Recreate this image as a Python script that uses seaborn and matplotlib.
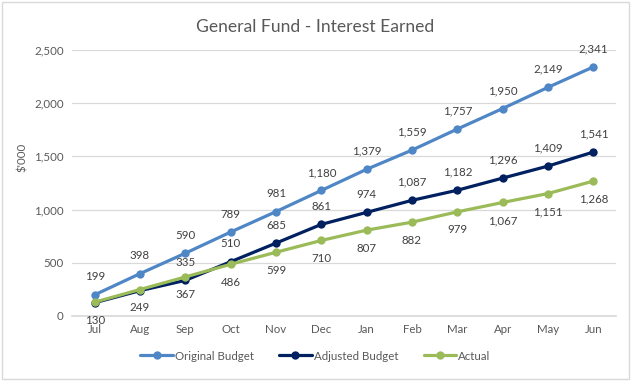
import matplotlib
matplotlib.use("Agg")
import matplotlib.pyplot as plt
import seaborn as sns
import pandas as pd
from matplotlib.patches import Rectangle
from matplotlib.lines import Line2D
from matplotlib.ticker import FuncFormatter

months = ["Jul", "Aug", "Sep", "Oct", "Nov", "Dec", "Jan", "Feb", "Mar", "Apr", "May", "Jun"]
original_budget = [199, 398, 590, 789, 981, 1180, 1379, 1559, 1757, 1950, 2149, 2341]
adjusted_budget = [125, 238, 335, 510, 685, 861, 974, 1087, 1182, 1296, 1409, 1541]
actual = [130, 249, 367, 486, 599, 710, 807, 882, 979, 1067, 1151, 1268]
series_names = ["Original Budget", "Adjusted Budget", "Actual"]
colors = ["#4F86C6", "#002060", "#9BBB59"]

# label placement: +1 above, -1 below, 0 none
orig_pos = [1] * 12
adj_pos = [0, 0] + [1] * 10
act_pos = [-1] * 12

sns.set_theme(style="white")
plt.rcParams["font.family"] = ["Lato", "DejaVu Sans"]

rows = []
for name, vals in zip(series_names, [original_budget, adjusted_budget, actual]):
    for i, v in enumerate(vals):
        rows.append({"x": i, "value": v, "series": name})
df = pd.DataFrame(rows)

fig = plt.figure(figsize=(6.31, 3.81), dpi=100)
ax = fig.add_axes([72 / 631, 1 - 316 / 381, 544 / 631, 266 / 381])

sns.lineplot(data=df, x="x", y="value", hue="series", hue_order=series_names,
             palette=colors, marker="o", markersize=6, markeredgewidth=0,
             linewidth=2.3, ax=ax, legend=False, sort=False, zorder=3)

ax.set_xlim(-0.5, 11.5)
ax.set_ylim(0, 2500)
ax.set_yticks(range(0, 2501, 500))
ax.yaxis.set_major_formatter(FuncFormatter(lambda v, p: f"{int(v):,}"))
ax.set_xticks(range(12))
ax.set_xticklabels(months)
ax.tick_params(axis="both", length=0, labelsize=8.3, colors="#595959", pad=6)
ax.grid(axis="y", color="#D9D9D9", linewidth=0.9)
ax.set_axisbelow(True)
for s in ["left", "right", "top"]:
    ax.spines[s].set_visible(False)
ax.spines["bottom"].set_color("#D9D9D9")
ax.set_xlabel("")
ax.set_ylabel("")

for vals, pos in zip([original_budget, adjusted_budget, actual], [orig_pos, adj_pos, act_pos]):
    for i, (v, p) in enumerate(zip(vals, pos)):
        if p == 0:
            continue
        ax.annotate(f"{v:,}", (i, v), xytext=(0, 9 * p), textcoords="offset points",
                    ha="center", va="bottom" if p > 0 else "top",
                    fontsize=8.3, color="#404040")

fig.text(0.5, 1 - 27 / 381, "General Fund - Interest Earned", ha="center", va="center",
         fontsize=12.6, color="#595959")
fig.text(22 / 631, 1 - 157 / 381, "$'000", rotation=90, ha="center", va="center",
         fontsize=8.3, color="#595959")

handles = [Line2D([0], [0], color=c, linewidth=2.3, marker="o", markersize=6,
                  markeredgewidth=0) for c in colors]
fig.legend(handles, series_names, loc="center", bbox_to_anchor=(0.5, 1 - 356 / 381),
           ncol=3, frameon=False, fontsize=8.3, labelcolor="#595959",
           handlelength=2.8, handletextpad=0.2, columnspacing=2.2)

fig.patches.append(Rectangle((2 / 631, 2 / 381), 627 / 631, 377 / 381, transform=fig.transFigure,
                             fill=False, edgecolor="#D9D9D9", linewidth=1))

fig.savefig("out.png", dpi=100, facecolor="white")
